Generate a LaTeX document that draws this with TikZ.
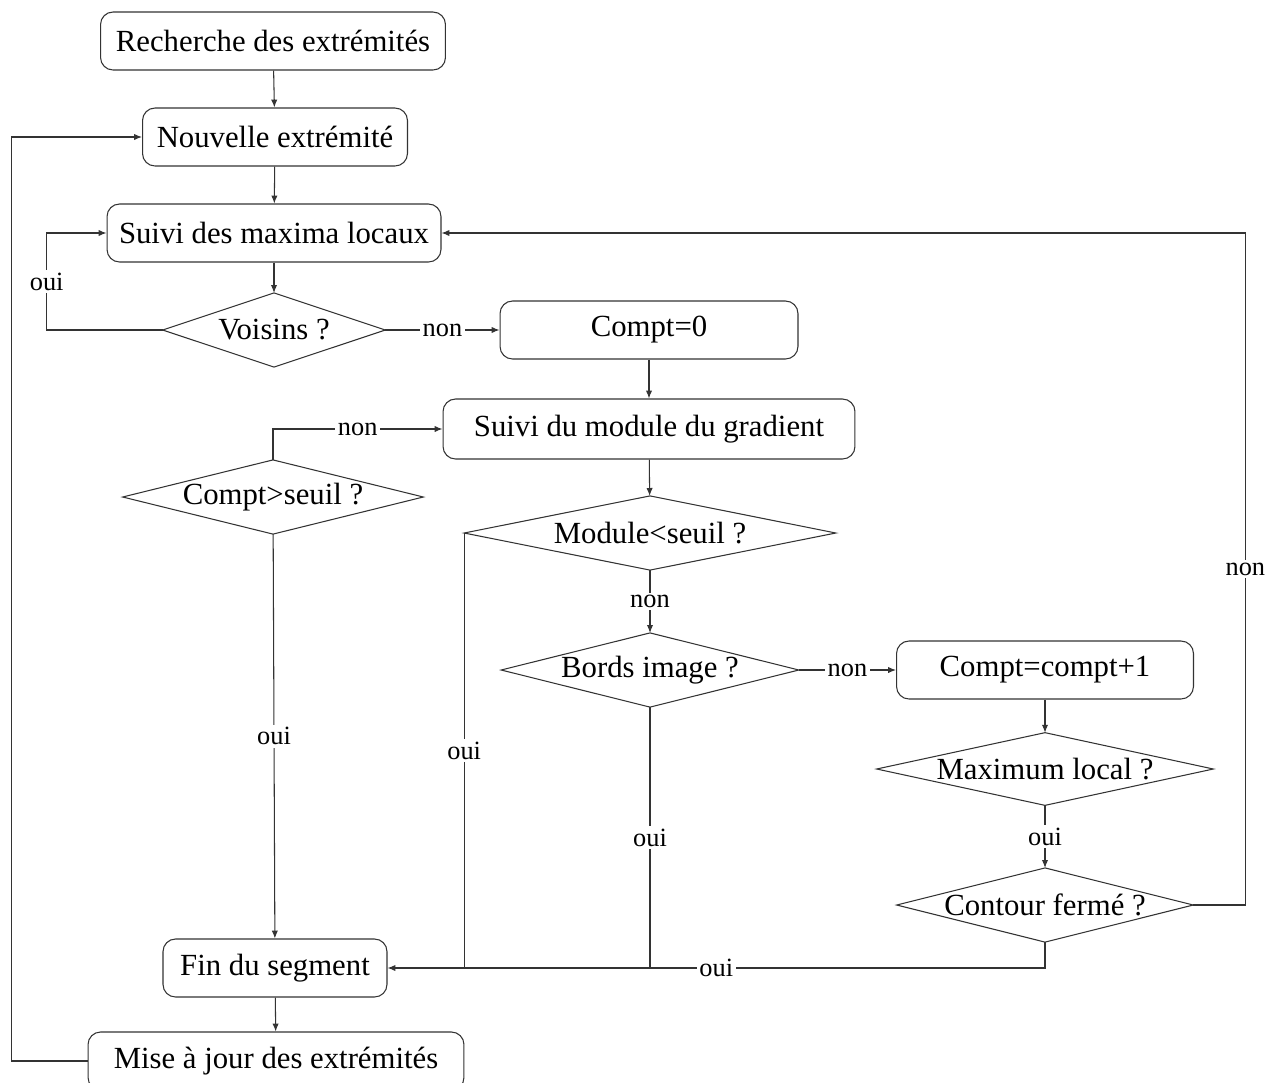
\documentclass[tikz,border=0pt]{standalone}
\usepackage{fontspec}
\setmainfont{Liberation Serif}
\usepackage{tikz}
\usetikzlibrary{arrows.meta}
\definecolor{fline}{HTML}{333333}

\begin{document}
\begin{tikzpicture}[
  x=0.02cm,y=-0.02cm,
  font=\fontsize{17.5}{20}\selectfont,
  box/.style={draw=fline,line width=0.6pt,fill=white,rounded corners=0.25cm,align=center,
              minimum height=1.16cm,inner sep=1mm},
  test/.style={align=center,inner sep=0pt,minimum height=1.47cm},
  lab/.style={fill=white,inner sep=1.5pt,font=\fontsize{15}{17}\selectfont},
  arr/.style={-{Latex[length=4.5pt,width=3.6pt]},draw=fline,line width=0.6pt},
  ln/.style={draw=fline,line width=0.6pt}]

  \useasboundingbox (0,0) rectangle (1267,1082);

  % colonne de gauche
  \node[box,minimum width=6.9cm] (rech) at (273,41) {Recherche des extrémités};
  \node[box,minimum width=5.3cm] (nouv) at (275,137) {Nouvelle extrémité};
  \node[box,minimum width=6.68cm] (smax) at (274,233) {Suivi des maxima locaux};
  \node[test,minimum width=4.44cm] (vois) at (274,330) {Voisins ?};
  \node[test,minimum width=6.0cm] (seuil) at (273,497) {Compt>seuil ?};
  \node[box,minimum width=4.48cm] (fin) at (275,968) {Fin du segment};
  \node[box,minimum width=7.52cm] (maj) at (276,1061) {Mise à jour des extrémités};

  % colonne du milieu
  \node[box,minimum width=5.96cm] (c0) at (649,330) {Compt=0};
  \node[box,minimum width=8.24cm,minimum height=1.2cm] (smod) at (649,429) {Suivi du module du gradient};
  \node[test,minimum width=7.42cm] (mod) at (650,533) {Module<seuil ?};
  \node[test,minimum width=5.94cm] (bord) at (650,670) {Bords image ?};

  % colonne de droite
  \node[box,minimum width=5.94cm] (cinc) at (1045,670) {Compt=compt+1};
  \node[test,minimum width=6.72cm,minimum height=1.44cm] (maxl) at (1045,769) {Maximum local ?};
  \node[test,minimum width=5.92cm] (cont) at (1045,905) {Contour fermé ?};

  % losanges des tests
  \foreach \t in {vois,seuil,mod,bord,maxl,cont}
    \draw[ln] (\t.north) -- (\t.east) -- (\t.south) -- (\t.west) -- cycle;

  \draw[arr] (rech) -- (nouv);
  \draw[arr] (nouv) -- (smax);
  \draw[arr] (smax) -- (vois);
  \draw[arr] (vois.west) -- ++(-116,0) |- node[lab,pos=0.25]{oui} (smax.west);
  \draw[arr] (vois) -- node[lab]{non} (c0);
  \draw[arr] (c0) -- (smod);
  \draw[arr] (smod) -- (mod);
  \draw[arr] (mod) -- node[lab]{non} (bord);
  \draw[arr] (bord) -- node[lab]{non} (cinc);
  \draw[arr] (cinc) -- (maxl);
  \draw[arr] (maxl) -- node[lab]{oui} (cont);
  \draw[arr] (cont.east) -- ++(52,0) |- node[lab,pos=0.25]{non} (smax.east);
  \draw[arr] (seuil.north) |- node[lab,pos=0.75]{non} (smod.west);
  \draw[arr] (seuil) -- node[lab]{oui} (fin);
  \draw[ln] (mod.west) -- node[lab]{oui} (mod.west |- fin.east);
  \draw[ln] (bord.south) -- node[lab]{oui} (bord.south |- fin.east);
  \draw[arr] (cont.south) |- node[lab,pos=0.75]{oui} (fin.east);
  \draw[arr] (fin) -- (maj);
  \draw[arr] (maj.west) -- ++(-76,0) |- (nouv.west);
\end{tikzpicture}
\end{document}
